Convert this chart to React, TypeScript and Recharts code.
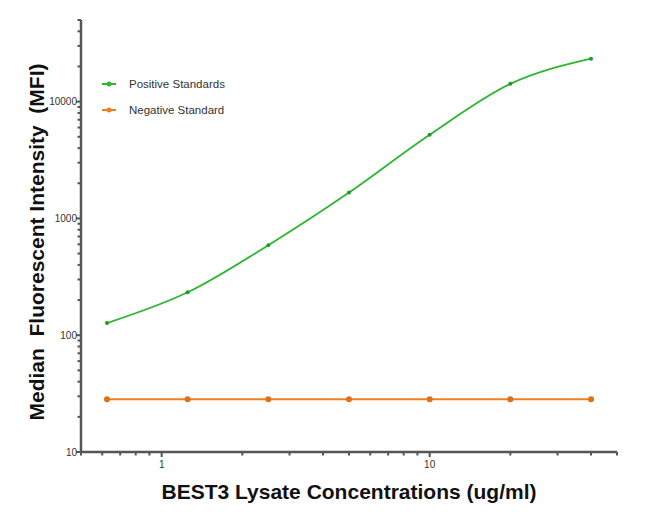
import { LineChart, Line, XAxis, YAxis, Legend } from 'recharts';

const concentrations = [0.625, 1.25, 2.5, 5, 10, 20, 40];
const positiveStandards = [127, 233, 590, 1665, 5200, 14200, 23300];
const negativeStandard = [28.3, 28.3, 28.3, 28.3, 28.3, 28.3, 28.3];

const xTicks = [0.5, 0.6, 0.7, 0.8, 0.9, 1, 2, 3, 4, 5, 6, 7, 8, 9, 10, 20, 30, 40, 50];
const xLabels = [1, 10];
const yTicks = [
  10, 20, 30, 40, 50, 60, 70, 80, 90,
  100, 200, 300, 400, 500, 600, 700, 800, 900,
  1000, 2000, 3000, 4000, 5000, 6000, 7000, 8000, 9000,
  10000, 20000, 30000, 40000, 50000,
];
const yLabels = [10, 100, 1000, 10000];

const seriesNames = ['Positive Standards', 'Negative Standard'];
const seriesColors = ['#2fb52f', '#ee7f22'];

const data = concentrations.map((c, i) => ({
  conc: c,
  pos: positiveStandards[i],
  neg: negativeStandard[i],
}));

const font = '"Liberation Sans", Arial, sans-serif';
const axisColor = '#555';

const XTick = ({ x, y, payload }: any) => {
  const major = xLabels.includes(payload.value);
  return (
    <g>
      <line x1={x} x2={x} y1={y} y2={y + (major ? 5 : 3.5)} stroke={axisColor} strokeWidth={2} />
      {major && (
        <text x={x} y={y + 16} textAnchor="middle" fontSize={10} fill="#333" fontFamily={font}>
          {payload.value}
        </text>
      )}
    </g>
  );
};

const YTick = ({ x, y, payload }: any) => {
  const major = yLabels.includes(payload.value);
  return (
    <g>
      <line x1={x} x2={x - (major ? 5 : 3.5)} y1={y} y2={y} stroke={axisColor} strokeWidth={2} />
      {major && (
        <text x={x - 4} y={y + 3.5} textAnchor="end" fontSize={10} fill="#333" fontFamily={font}>
          {payload.value}
        </text>
      )}
    </g>
  );
};

const LegendBox = () => (
  <div style={{ fontFamily: font, fontSize: 11.5, color: '#333' }}>
    {seriesNames.map((name, i) => (
      <div key={name} style={{ display: 'flex', alignItems: 'center', height: 26 }}>
        <svg width={16} height={8} style={{ marginRight: 12 }}>
          <line x1={1} x2={15} y1={4} y2={4} stroke={seriesColors[i]} strokeWidth={2} />
          <circle cx={8} cy={4} r={2.5} fill={seriesColors[i]} />
        </svg>
        <span>{name}</span>
      </div>
    ))}
  </div>
);

export default function App() {
  return (
    <div style={{ position: 'absolute', left: 0, top: 0, background: '#fff' }}>
      <LineChart width={650} height={513} data={data} margin={{ top: 20, right: 33, bottom: 21, left: 31 }}>
        <XAxis
          dataKey="conc"
          type="number"
          scale="log"
          domain={[0.5, 50]}
          allowDataOverflow
          ticks={xTicks}
          interval={0}
          tick={<XTick />}
          tickSize={0}
          tickMargin={0}
          height={40}
          stroke={axisColor}
          strokeWidth={2.5}
          label={({ viewBox }: any) => (
            <text
              x={viewBox.x + viewBox.width / 2}
              y={499}
              textAnchor="middle"
              fontFamily={font}
              fontSize={21}
              fontWeight="bold"
              fill="#111"
            >
              BEST3 Lysate Concentrations (ug/ml)
            </text>
          )}
        />
        <YAxis
          type="number"
          scale="log"
          domain={[10, 50000]}
          allowDataOverflow
          ticks={yTicks}
          interval={0}
          tick={<YTick />}
          tickSize={0}
          tickMargin={0}
          width={50}
          stroke={axisColor}
          strokeWidth={2.5}
          label={() => (
            <text
              x={36}
              y={242}
              transform="rotate(-90, 36, 242)"
              textAnchor="middle"
              dominantBaseline="central"
              fontFamily={font}
              fontSize={21}
              fontWeight="bold"
              fill="#111"
              style={{ whiteSpace: 'pre' }}
            >
              {'Median  Fluorescent Intensity  (MFI)'}
            </text>
          )}
        />
        <Legend
          layout="horizontal"
          verticalAlign="middle"
          align="center"
          content={<LegendBox />}
          wrapperStyle={{ top: 71, left: 101, width: 200, height: 52 }}
        />
        <Line
          name={seriesNames[0]}
          dataKey="pos"
          type="monotone"
          stroke={seriesColors[0]}
          strokeWidth={1.8}
          dot={{ r: 2, fill: '#1f9a2a', stroke: 'none' }}
          isAnimationActive={false}
        />
        <Line
          name={seriesNames[1]}
          dataKey="neg"
          type="linear"
          stroke={seriesColors[1]}
          strokeWidth={2}
          dot={{ r: 3, fill: '#e07018', stroke: 'none' }}
          isAnimationActive={false}
        />
      </LineChart>
    </div>
  );
}
